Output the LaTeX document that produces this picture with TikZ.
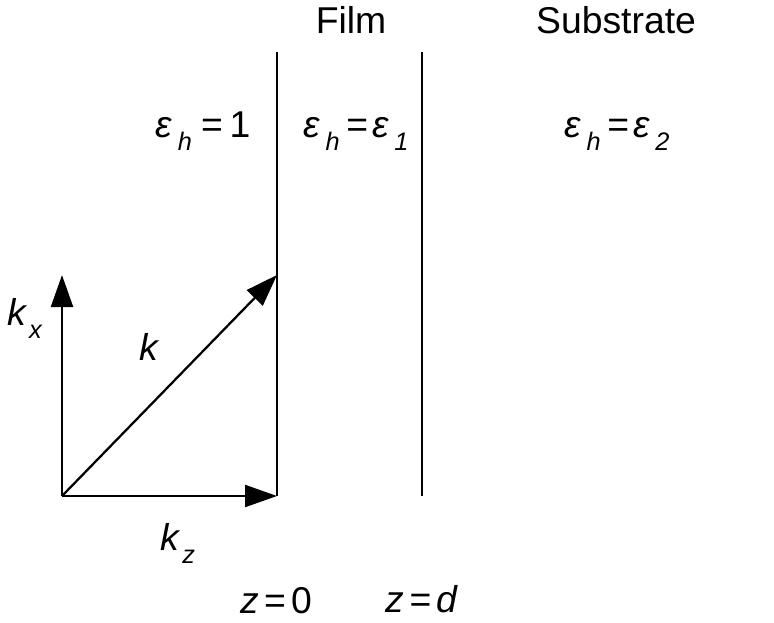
\documentclass[tikz,border=0pt]{standalone}
\usepackage{fontspec}
\setmainfont{Liberation Sans}
\usetikzlibrary{arrows.meta}
\newcommand{\lowsub}[2][4pt]{\hspace{#1}\raisebox{-10pt}{\fontsize{19}{19}\selectfont\textit{#2}}}
\begin{document}
\begin{tikzpicture}[
    x=0.75pt, y=-0.75pt,
    lbl/.style={anchor=base, inner sep=0pt, font=\fontsize{28}{32}\selectfont},
    wall/.style={line width=1.7pt},
    vec/.style={line width=1.7pt, -{Triangle[length=24pt, width=16.5pt]}},
]
\useasboundingbox (0,0) rectangle (774,622);

% Layer titles
\node[lbl] (film) at (351, 33) {Film};
\node[lbl] (substrate) at (616, 33) {Substrate};

% Permittivities
\node[lbl] (eps0) at (203, 137) {\textit{ε}\lowsub{h}\hspace{7pt}=\hspace{5pt}1};
\node[lbl] (eps1) at (356, 137) {\textit{ε}\lowsub{h}\hspace{5pt}=\hspace{3pt}\textit{ε}\lowsub{1}};
\node[lbl] (eps2) at (617, 137) {\textit{ε}\lowsub{h}\hspace{5pt}=\hspace{3pt}\textit{ε}\lowsub{2}};

% Interfaces
\coordinate (top0) at (277, 52);
\coordinate (bot0) at (277, 496);
\coordinate (top1) at (422, 52);
\coordinate (bot1) at (422, 496);
\draw[wall] (top0) -- (bot0);
\draw[wall] (top1) -- (bot1);

% Wave vector and its components
\coordinate (origin) at (62, 496);
\coordinate (kxtip) at (62, 275);
\coordinate (ktip) at (277, 275);
\draw[vec] (origin) -- (kxtip);
\draw[vec] (origin) -- (ktip);
\draw[vec] (origin) -- (bot0);

\node[lbl] (kx) at (25, 325) {\textit{k}\lowsub[1pt]{x}};
\node[lbl] (k) at (150, 360) {\textit{k}};
\node[lbl] (kz) at (178, 550) {\textit{k}\lowsub[1pt]{z}};

% Positions of the interfaces
\node[lbl] (z0) at (276, 613) {\textit{z}\hspace{4pt}=\hspace{4pt}0};
\node[lbl] (zd) at (422, 612) {\textit{z}\hspace{4pt}=\hspace{4pt}\textit{d}};
\end{tikzpicture}
\end{document}
